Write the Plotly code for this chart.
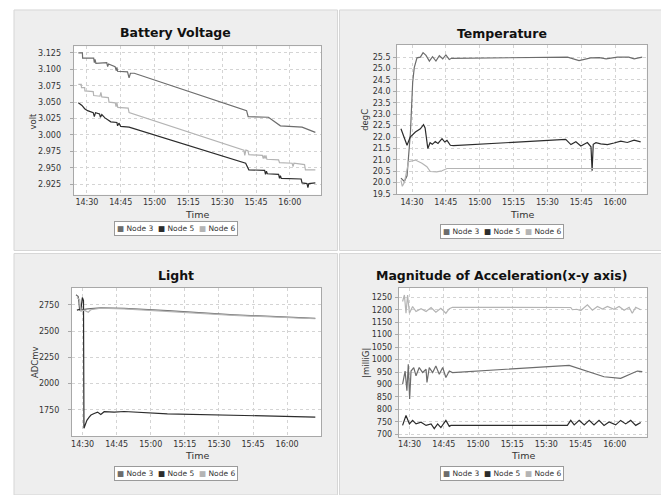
import plotly.graph_objects as go

DAY = "2008-01-01 "
NODES = ["Node 3", "Node 5", "Node 6"]
NODE_COLORS = ["#6c6c6c", "#2c2c2c", "#b4b4b4"]

# ---------------- Battery Voltage (volt) ----------------
bv_n3_time = ["14:26:12", "14:28:00", "14:28:06", "14:33:00", "14:33:18", "14:33:36", "14:34:00",
              "14:38:48", "14:39:12", "14:39:36", "14:42:30", "14:43:00", "14:43:18", "14:43:36",
              "14:48:00", "14:48:42", "14:49:18", "14:51:00", "15:40:48", "15:41:30", "15:50:30",
              "15:55:48", "16:05:24", "16:11:18"]
bv_n3_volt = [3.125, 3.125, 3.117, 3.117, 3.110, 3.115, 3.109,
              3.110, 3.104, 3.108, 3.104, 3.098, 3.103, 3.097,
              3.096, 3.087, 3.094, 3.094, 3.037, 3.028, 3.027,
              3.014, 3.012, 3.004]

bv_n5_time = ["14:26:12", "14:27:48", "14:29:00", "14:30:18", "14:32:48", "14:33:18", "14:33:48",
              "14:35:36", "14:36:00", "14:36:36", "14:38:00", "14:40:36", "14:43:18", "14:43:36",
              "14:44:12", "14:45:00", "14:48:42", "15:40:24", "15:41:48", "15:48:48", "15:49:12",
              "15:49:36", "15:50:00", "15:55:00", "15:55:24", "15:55:48", "15:56:12", "16:05:00",
              "16:05:24", "16:07:36", "16:08:00", "16:08:24", "16:11:18"]
bv_n5_volt = [3.049, 3.045, 3.040, 3.037, 3.034, 3.028, 3.034,
              3.032, 3.027, 3.031, 3.026, 3.020, 3.019, 3.014,
              3.018, 3.013, 3.012, 2.957, 2.947, 2.946, 2.940,
              2.945, 2.941, 2.940, 2.934, 2.938, 2.934, 2.933,
              2.927, 2.926, 2.920, 2.926, 2.927]

bv_n6_time = ["14:26:12", "14:27:30", "14:27:36", "14:29:00", "14:29:06", "14:32:48", "14:33:00",
              "14:35:48", "14:36:12", "14:36:36", "14:39:30", "14:39:48", "14:42:36", "14:42:54",
              "14:43:18", "14:43:42", "14:48:18", "14:48:42", "15:39:36", "15:40:00", "15:40:30",
              "15:41:24", "15:41:48", "15:47:48", "15:48:12", "15:48:36", "15:49:00", "15:49:24",
              "15:49:48", "15:55:00", "15:55:24", "16:01:00", "16:01:24", "16:01:48", "16:06:30",
              "16:06:54", "16:11:18"]
bv_n6_volt = [3.077, 3.077, 3.072, 3.072, 3.067, 3.066, 3.060,
              3.059, 3.065, 3.058, 3.057, 3.050, 3.049, 3.043,
              3.049, 3.042, 3.041, 3.034, 2.977, 2.969, 2.977,
              2.976, 2.970, 2.969, 2.964, 2.969, 2.964, 2.969,
              2.963, 2.962, 2.958, 2.957, 2.952, 2.957, 2.955,
              2.947, 2.947]
bv_ticks = [2.925, 2.950, 2.975, 3.000, 3.025, 3.050, 3.075, 3.100, 3.125]

# ---------------- Temperature (degC) ----------------
tp_n3_time = ["14:25:06", "14:26:36", "14:27:48", "14:29:18", "14:30:18", "14:31:00", "14:32:12",
              "14:33:42", "14:34:54", "14:36:12", "14:37:42", "14:39:06", "14:40:36", "14:42:06",
              "14:43:36", "14:45:00", "14:46:30", "14:47:30", "15:38:54", "15:44:00", "15:49:12",
              "15:53:00", "15:56:00", "16:01:00", "16:06:00", "16:08:24", "16:12:00"]
tp_n3_degc = [20.20, 20.05, 20.30, 22.20, 24.40, 25.04, 25.47,
              25.50, 25.70, 25.58, 25.33, 25.52, 25.33, 25.57,
              25.43, 25.60, 25.40, 25.45, 25.50, 25.35, 25.47,
              25.48, 25.43, 25.50, 25.50, 25.43, 25.50]

tp_n5_time = ["14:25:06", "14:27:48", "14:29:12", "14:31:30", "14:33:42", "14:35:06", "14:35:48",
              "14:37:00", "14:38:00", "14:39:00", "14:40:18", "14:41:30", "14:43:18", "14:44:30",
              "14:45:30", "14:47:00", "14:48:24", "15:38:06", "15:40:24", "15:42:36", "15:44:48",
              "15:47:42", "15:49:18", "15:49:30", "15:49:48", "15:50:18", "15:51:30", "15:53:36",
              "15:56:36", "15:59:30", "16:02:30", "16:05:24", "16:08:24", "16:11:18"]
tp_n5_degc = [22.36, 21.64, 22.00, 22.22, 22.36, 22.54, 22.40,
              21.50, 21.75, 21.68, 21.80, 21.72, 21.93, 21.78,
              21.85, 21.64, 21.62, 21.90, 21.67, 21.79, 21.61,
              21.76, 21.57, 20.52, 20.52, 21.68, 21.75, 21.70,
              21.67, 21.74, 21.82, 21.76, 21.86, 21.79]

tp_n6_time = ["14:25:06", "14:25:42", "14:26:36", "14:28:30", "14:31:30", "14:34:24", "14:36:36",
              "14:38:06", "14:41:00", "14:43:18", "14:45:30", "16:11:48"]
tp_n6_degc = [20.10, 19.84, 20.00, 20.92, 20.99, 20.85, 20.70,
              20.49, 20.47, 20.52, 20.62, 20.62]
tp_ticks = [19.5, 20.0, 20.5, 21.0, 21.5, 22.0, 22.5, 23.0, 23.5, 24.0, 24.5, 25.0, 25.5]

# ---------------- Light (ADCmv) ----------------
lt_n3_time = ["14:27:06", "14:28:06", "14:28:42", "14:30:00", "14:32:12", "14:38:00", "14:48:18",
              "15:07:18", "15:36:36", "16:12:24"]
lt_n3_adc = [2847, 2830, 2700, 2705, 2712, 2722, 2716, 2695, 2655, 2622]

lt_n5_time = ["14:27:30", "14:29:18", "14:29:54", "14:30:24", "14:30:36", "14:31:54", "14:32:54",
              "14:33:42", "14:35:06", "14:36:36", "14:38:00", "14:39:30", "14:43:54", "14:48:18",
              "15:07:18", "15:36:36", "16:12:24"]
lt_n5_adc = [2700, 2710, 2820, 2790, 1575, 1650, 1680,
             1700, 1715, 1728, 1705, 1732, 1728, 1734,
             1712, 1696, 1681]

lt_n6_time = ["14:27:30", "14:28:42", "14:29:18", "14:30:42", "14:32:30", "14:33:42", "14:38:00",
              "14:48:18", "15:36:36", "16:12:24"]
lt_n6_adc = [2820, 2800, 2690, 2700, 2680, 2705, 2718, 2712, 2650, 2618]
lt_ticks = [1750, 2000, 2250, 2500, 2750]

# ---------------- Magnitude of Acceleration (milliG) ----------------
ac_n3_time = ["14:26:54", "14:28:00", "14:28:48", "14:29:24", "14:30:00", "14:30:36", "14:31:48",
              "14:32:48", "14:34:12", "14:35:42", "14:37:12", "14:37:36", "14:38:36", "14:40:06",
              "14:41:30", "14:43:00", "14:44:30", "14:45:54", "14:47:24", "14:48:48", "15:40:00",
              "15:55:18", "16:02:36", "16:09:54", "16:12:06"]
ac_n3_mg = [901, 954, 875, 981, 842, 954, 968,
            935, 968, 948, 961, 908, 968, 948,
            974, 941, 968, 928, 954, 948, 977,
            931, 925, 954, 952]

ac_n5_time = ["14:26:54", "14:28:24", "14:29:54", "14:31:18", "14:32:48", "14:35:00", "14:37:12",
              "14:39:24", "14:40:48", "14:42:18", "14:43:42", "14:45:54", "14:47:24", "14:48:06",
              "15:39:12", "15:40:42", "15:42:12", "15:44:24", "15:46:36", "15:48:48", "15:50:54",
              "15:53:06", "15:55:18", "15:57:30", "16:00:24", "16:02:36", "16:04:48", "16:07:00",
              "16:09:12", "16:11:24"]
ac_n5_mg = [736, 776, 742, 756, 742, 749, 736,
            742, 723, 742, 727, 756, 732, 736,
            736, 756, 738, 756, 738, 756, 738,
            756, 736, 750, 738, 756, 742, 756,
            736, 748]

ac_n6_time = ["14:26:54", "14:27:42", "14:28:24", "14:29:06", "14:29:54", "14:31:18", "14:32:48",
              "14:35:00", "14:37:12", "14:39:24", "14:41:30", "14:43:42", "14:45:54", "14:47:24",
              "14:48:48", "15:40:42", "15:41:24", "15:43:18", "15:45:06", "15:48:00", "15:50:12",
              "15:52:24", "15:54:36", "15:56:48", "15:59:42", "16:01:54", "16:04:06", "16:06:18",
              "16:07:42", "16:09:12", "16:11:24"]
ac_n6_mg = [1233, 1259, 1186, 1259, 1186, 1213, 1193,
            1204, 1193, 1209, 1190, 1206, 1186, 1204,
            1210, 1209, 1200, 1202, 1197, 1220, 1198,
            1213, 1203, 1213, 1202, 1213, 1198, 1210,
            1186, 1210, 1200]
ac_ticks = [700, 750, 800, 850, 900, 950, 1000, 1050, 1100, 1150, 1200, 1250]

time_ticks = ["14:30", "14:45", "15:00", "15:15", "15:30", "15:45", "16:00"]

# page body has an 8px margin; the figure is sized to fit the rest of the window
OFF = 8
W, H = 669 - OFF, 495 - OFF
FONT = "DejaVu Sans"


def px(x):
    return (x - OFF) / W


def py(y):
    return 1 - (y - OFF) / H


panels = [
    dict(title="Battery Voltage", ytitle="volt",
         series=[(bv_n3_time, bv_n3_volt), (bv_n5_time, bv_n5_volt), (bv_n6_time, bv_n6_volt)],
         ticks=bv_ticks, fmt=".3f",
         box=(13, 10, 337, 253), plot=(72.7, 46.7, 320.7, 196.7),
         xr=("14:24:06", "16:13:54"), yr=(2.909, 3.135),
         title_y=33, legend_y=231, time_y=217, ytitle_x=32, standoff=7),
    dict(title="Temperature", ytitle="degC",
         series=[(tp_n3_time, tp_n3_degc), (tp_n5_time, tp_n5_degc), (tp_n6_time, tp_n6_degc)],
         ticks=tp_ticks, fmt=".1f",
         box=(339, 10, 664, 253), plot=(396.7, 45, 646.7, 196),
         xr=("14:23:24", "16:14:00"), yr=(19.5, 26.05),
         title_y=34, legend_y=234, time_y=217, ytitle_x=365, standoff=1),
    dict(title="Light", ytitle="ADCmv",
         series=[(lt_n3_time, lt_n3_adc), (lt_n5_time, lt_n5_adc), (lt_n6_time, lt_n6_adc)],
         ticks=lt_ticks, fmt="d",
         box=(13, 256, 337, 500), plot=(71, 290.7, 320.7, 440.7),
         xr=("14:25:18", "16:15:00"), yr=(1498, 2913),
         title_y=278, legend_y=478, time_y=460, ytitle_x=34, standoff=7),
    dict(title="Magnitude of Acceleration(x-y axis)", ytitle="|milliG|",
         series=[(ac_n3_time, ac_n3_mg), (ac_n5_time, ac_n5_mg), (ac_n6_time, ac_n6_mg)],
         ticks=ac_ticks, fmt="d",
         box=(339, 256, 664, 500), plot=(398.3, 290.7, 647.3, 441.3),
         xr=("14:25:12", "16:14:18"), yr=(690, 1288),
         title_y=278, legend_y=478, time_y=460, ytitle_x=366, standoff=1),
]

fig = go.Figure()
shapes = []
annotations = []
layout_axes = {}

for i, p in enumerate(panels):
    n = i + 1
    xa = "x" if n == 1 else f"x{n}"
    ya = "y" if n == 1 else f"y{n}"
    x0, y0, x1, y1 = p["box"]
    shapes.append(dict(type="rect", xref="paper", yref="paper", layer="below",
                       x0=px(x0), x1=px(x1), y0=py(y1), y1=py(y0),
                       fillcolor="#eeeeee", line=dict(color="#d6d6d6", width=1)))
    l, t, r, b = p["plot"]
    shapes.append(dict(type="rect", xref="paper", yref="paper", layer="below",
                       x0=px(l), x1=px(r), y0=py(b), y1=py(t),
                       fillcolor="#ffffff", line=dict(width=0)))
    for (times, vals), name, col in zip(p["series"], NODES, NODE_COLORS):
        fig.add_trace(go.Scatter(x=[DAY + s for s in times], y=vals, mode="lines", name=name,
                                 line=dict(color=col, width=1.2), xaxis=xa, yaxis=ya,
                                 showlegend=False))
    axis_common = dict(showline=True, mirror=True, linecolor="#a8a8a8", linewidth=1,
                       showgrid=True, gridcolor="#d4d4d4", griddash="dot", gridwidth=1,
                       zeroline=False,
                       tickfont=dict(family=FONT, size=8, color="#333333"))
    layout_axes["xaxis" if n == 1 else f"xaxis{n}"] = dict(
        axis_common, domain=[px(l), px(r)], anchor=ya, type="date",
        range=[DAY + p["xr"][0], DAY + p["xr"][1]], ticks="",
        tickvals=[DAY + s for s in time_ticks], ticktext=time_ticks)
    layout_axes["yaxis" if n == 1 else f"yaxis{n}"] = dict(
        axis_common, domain=[py(b), py(t)], anchor=xa, range=list(p["yr"]),
        ticks="outside", ticklen=3, tickcolor="#a8a8a8",
        tickvals=p["ticks"], tickformat=p["fmt"], ticklabelstandoff=p["standoff"])
    cx = (x0 + x1) / 2
    annotations.append(dict(text="<b>" + p["title"] + "</b>", xref="paper", yref="paper",
                            x=px(cx), y=py(p["title_y"]), xanchor="center", yanchor="middle",
                            showarrow=False, font=dict(family=FONT, size=12.5, color="#111111")))
    annotations.append(dict(text="Time", xref="paper", yref="paper",
                            x=px((l + r) / 2), y=py(p["time_y"]), xanchor="center", yanchor="middle",
                            showarrow=False, font=dict(family=FONT, size=9.5, color="#333333")))
    annotations.append(dict(text=p["ytitle"], xref="paper", yref="paper", textangle=-90,
                            x=px(p["ytitle_x"]), y=py((t + b) / 2), xanchor="center", yanchor="middle",
                            showarrow=False, font=dict(family=FONT, size=8.5, color="#333333")))
    leg = "&nbsp;&nbsp;".join(
        f"<span style='color:{c}'>■</span> {nm}" for nm, c in zip(NODES, NODE_COLORS))
    annotations.append(dict(text=leg, xref="paper", yref="paper",
                            x=px(cx), y=py(p["legend_y"]), xanchor="center", yanchor="middle",
                            showarrow=False, bgcolor="#ffffff", bordercolor="#9a9a9a", borderwidth=1,
                            borderpad=2, font=dict(family=FONT, size=7.5, color="#333333")))

fig.update_layout(width=W, height=H, margin=dict(l=0, r=0, t=0, b=0),
                  paper_bgcolor="#ffffff", plot_bgcolor="rgba(0,0,0,0)",
                  shapes=shapes, annotations=annotations, showlegend=False, **layout_axes)

fig.write_html("out.html")
